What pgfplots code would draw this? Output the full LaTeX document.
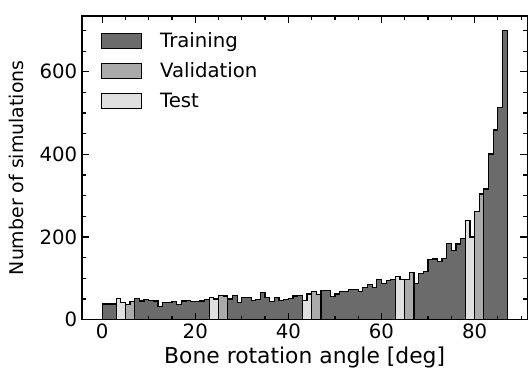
\documentclass[border=0pt]{standalone}
\usepackage{fontspec}
\setmainfont{DejaVu Sans}
\usepackage{pgfplots}
\pgfplotsset{compat=1.18}

\definecolor{trainc}{HTML}{6B6B6B}
\definecolor{valc}{HTML}{AAAAAA}
\definecolor{testc}{HTML}{E0E0E0}

\pgfplotsset{
  hist/.style={const plot mark left, draw=black, line width=0.9pt, mark=none, forget plot},
}

\begin{document}
\begin{tikzpicture}
\begin{axis}[
  scale only axis,
  width=334.5pt, height=228pt,
  xmin=-4.35, xmax=91.35, ymin=0, ymax=735,
  xtick={0,20,40,60,80}, ytick={0,200,400,600},
  minor xtick={5,10,...,90}, minor ytick={50,100,...,700},
  tick align=inside, xtick pos=both, ytick pos=both, ticklabel pos=left,
  major tick length=5.25pt, minor tick length=3pt,
  every tick/.style={black, line width=0.9pt},
  axis line style={line width=0.9pt},
  axis on top,
  font=\fontsize{14.8}{17.8}\selectfont,
  /pgf/number format/assume math mode=true,
  xlabel={Bone rotation angle [deg]},
  ylabel={Number of simulations},
  xlabel style={font=\fontsize{16.4}{19.6}\selectfont, yshift=1pt},
  ylabel style={font=\fontsize{14.2}{17}\selectfont, yshift=5pt},
  legend cell align=left,
  legend image code/.code={
    \draw[#1, line width=0.9pt] (0pt,-5.6pt) rectangle (30pt,5.6pt);
    \path[draw=none, fill=none] (0pt,0pt) -- (42pt,0pt);},
  legend style={draw=none, fill=none, at={(0.042,0.955)}, anchor=north west,
    row sep=6pt, inner sep=0pt, font=\fontsize{14.8}{17.8}\selectfont},
]
\addlegendimage{fill=trainc, draw=black}
\addlegendentry{Training}
\addlegendimage{fill=valc, draw=black}
\addlegendentry{Validation}
\addlegendimage{fill=testc, draw=black}
\addlegendentry{Test}

% training set: contiguous blocks of 1-degree bins
\addplot[hist, fill=trainc] coordinates {(0,38) (1,38) (2,38) (3,38)} \closedcycle;
\addplot[hist, fill=trainc] coordinates {
  (7,52) (8,45) (9,48) (10,46) (11,45) (12,32) (13,42) (14,42) (15,44)
  (16,37) (17,45) (18,46) (19,43) (20,44) (21,45) (22,49) (23,49)} \closedcycle;
\addplot[hist, fill=trainc] coordinates {
  (27,50) (28,58) (29,42) (30,53) (31,54) (32,46) (33,48) (34,65) (35,53)
  (36,44) (37,53) (38,47) (39,49) (40,51) (41,57) (42,58) (43,58)} \closedcycle;
\addplot[hist, fill=trainc] coordinates {
  (47,70) (48,71) (49,56) (50,62) (51,68) (52,68) (53,73) (54,73) (55,69)
  (56,77) (57,86) (58,77) (59,98) (60,87) (61,94) (62,97) (63,97)} \closedcycle;
\addplot[hist, fill=trainc] coordinates {
  (67,87) (68,112) (69,116) (70,146) (71,147) (72,141) (73,148) (74,184)
  (75,167) (76,183) (77,196) (78,196)} \closedcycle;
\addplot[hist, fill=trainc] coordinates {
  (82,316) (83,401) (84,459) (85,513) (86,700) (87,700)} \closedcycle;

% validation set
\addplot[hist, fill=valc] coordinates {(5,36) (6,43) (7,43)} \closedcycle;
\addplot[hist, fill=valc] coordinates {(25,59) (26,57) (27,57)} \closedcycle;
\addplot[hist, fill=valc] coordinates {(45,68) (46,60) (47,60)} \closedcycle;
\addplot[hist, fill=valc] coordinates {(65,98) (66,114) (67,114)} \closedcycle;
\addplot[hist, fill=valc] coordinates {(80,262) (81,304) (82,304)} \closedcycle;

% test set
\addplot[hist, fill=testc] coordinates {(3,52) (4,42) (5,42)} \closedcycle;
\addplot[hist, fill=testc] coordinates {(23,54) (24,50) (25,50)} \closedcycle;
\addplot[hist, fill=testc] coordinates {(43,46) (44,62) (45,62)} \closedcycle;
\addplot[hist, fill=testc] coordinates {(63,105) (64,98) (65,98)} \closedcycle;
\addplot[hist, fill=testc] coordinates {(78,240) (79,200) (80,200)} \closedcycle;
\end{axis}
\path[use as bounding box] (-61.5pt,-39.75pt) rectangle (334.5pt,240pt);
\end{tikzpicture}
\end{document}
